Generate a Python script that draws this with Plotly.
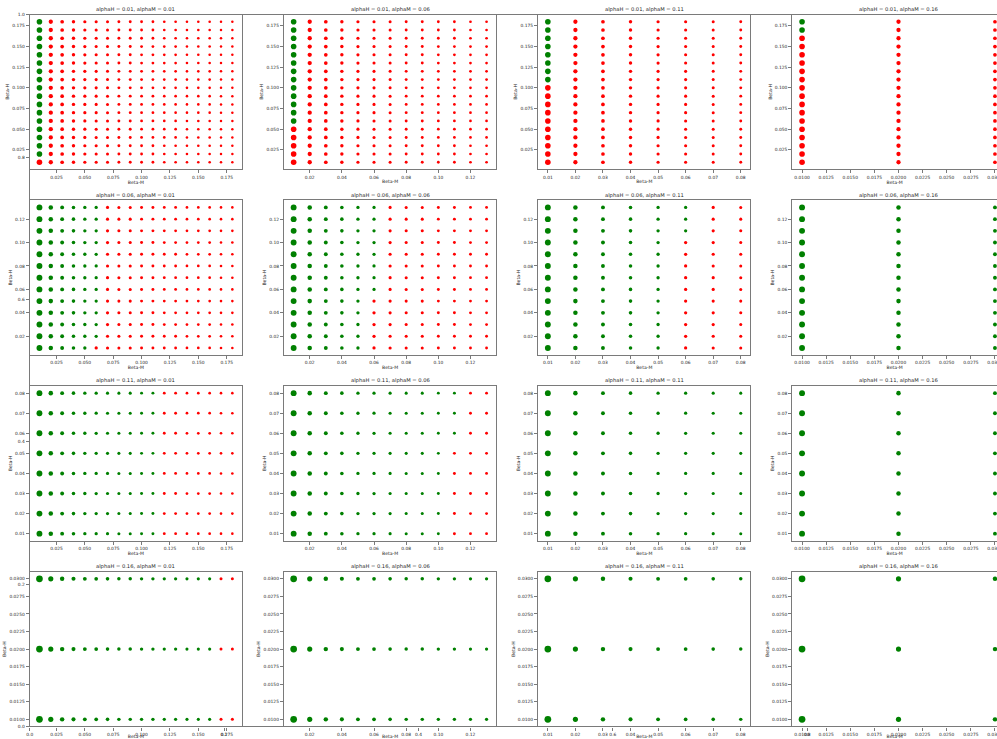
import plotly.graph_objects as go

W, H = 997, 739

alphaH_vals = [0.01, 0.06, 0.11, 0.16]
alphaM_vals = [0.01, 0.06, 0.11, 0.16]
beta_vals = [0.01, 0.02, 0.03, 0.04, 0.05, 0.06, 0.07, 0.08, 0.09,
             0.10, 0.11, 0.12, 0.13, 0.14, 0.15, 0.16, 0.17, 0.18]
# number of beta values used for each alpha level
n_beta = [18, 13, 8, 3]

# number of leftmost (lowest Beta-M) green points, for each Beta-H row (from 0.01 up)
green_counts = [
    [  # alphaH = 0.01
        [0, 1, 1, 1, 1, 1, 1, 1, 1, 1, 1, 1, 1, 1, 1, 1, 1, 1],
        [0, 0, 0, 0, 0, 1, 1, 1, 1, 1, 1, 1, 1, 1, 1, 1, 1, 1],
        [0, 0, 0, 0, 0, 0, 0, 0, 0, 0, 1, 1, 1, 1, 1, 1, 1, 1],
        [0, 0, 0, 0, 0, 0, 0, 0, 0, 0, 0, 0, 0, 0, 0, 0, 1, 1],
    ],
    [  # alphaH = 0.06
        [5, 6, 6, 6, 6, 6, 6, 6, 6, 6, 6, 6, 6],
        [5, 5, 5, 5, 5, 6, 6, 6, 6, 6, 6, 6, 6],
        [5, 5, 5, 5, 5, 5, 5, 5, 5, 5, 6, 6, 6],
        [3, 3, 3, 3, 3, 3, 3, 3, 3, 3, 3, 3, 3],
    ],
    [  # alphaH = 0.11
        [11, 11, 11, 11, 11, 11, 11, 11],
        [10, 10, 10, 10, 10, 11, 11, 11],
        [8, 8, 8, 8, 8, 8, 8, 8],
        [3, 3, 3, 3, 3, 3, 3, 3],
    ],
    [  # alphaH = 0.16
        [16, 16, 16],
        [13, 13, 13],
        [8, 8, 8],
        [3, 3, 3],
    ],
]

# marker diameter by Beta-M position
marker_d = [5.6, 4.3, 3.7, 3.4, 3.2, 3.1, 3.0, 2.9, 2.9,
            2.8, 2.8, 2.7, 2.7, 2.6, 2.6, 2.6, 2.5, 2.5]
row_scale = [1.0, 1.05, 1.05, 1.2]

# tick settings per alpha level (columns for Beta-M, rows for Beta-H)
tick_dt = [0.025, 0.02, 0.01, 0.0025]
tick_fmt = [".3f", ".2f", ".2f", ".4f"]

# layout geometry (pixels)
COL_L0, COL_STEP, COL_W = 29.8, 254.2, 212.2
ROW_T0, ROW_STEP, ROW_H = 14.7, 185.7, 154.6

LINE = "#7a7a7a"
TXT = "#262626"
FONT = "DejaVu Sans"

fig = go.Figure()
layout = {}
annotations = []

# background full-figure axes (0..1) visible behind the grid
OV_L, OV_R, OV_T, OV_B = 29.8, 1001.5, 14.7, 726.4
fig.add_trace(go.Scatter(x=[], y=[], xaxis="x", yaxis="y",
                         showlegend=False, hoverinfo="skip"))
layout["xaxis"] = dict(
    domain=[OV_L / W, 1], range=[0, (W - OV_L) / (OV_R - OV_L)], anchor="y",
    tickmode="linear", tick0=0, dtick=0.2, tickformat=".1f",
    ticks="outside", ticklen=3, tickwidth=0.8, tickcolor=LINE,
    showline=True, linecolor=LINE, linewidth=1.3, mirror=True,
    showgrid=False, zeroline=False, tickangle=0, ticklabeloverflow="allow",
    tickfont=dict(size=4.4, color=TXT, family=FONT), automargin=False, fixedrange=True)
layout["yaxis"] = dict(
    domain=[1 - OV_B / H, 1 - OV_T / H], range=[0, 1], anchor="x",
    tickmode="linear", tick0=0, dtick=0.2, tickformat=".1f",
    ticks="outside", ticklen=3, tickwidth=0.8, tickcolor=LINE,
    showline=True, linecolor=LINE, linewidth=1.3, mirror=False,
    showgrid=False, zeroline=False, ticklabeloverflow="allow",
    tickfont=dict(size=4.4, color=TXT, family=FONT), automargin=False, fixedrange=True)

for r in range(4):
    for c in range(4):
        k = r * 4 + c + 2
        xn, yn = f"x{k}", f"y{k}"
        xk, yk = f"xaxis{k}", f"yaxis{k}"
        bH = beta_vals[:n_beta[r]]
        bM = beta_vals[:n_beta[c]]
        xs, ys, cols, sz = [], [], [], []
        for i, h in enumerate(bH):
            g = green_counts[r][c][i]
            for j, m in enumerate(bM):
                xs.append(m)
                ys.append(h)
                cols.append("green" if j < g else "red")
                sz.append(marker_d[j] * row_scale[r])
        fig.add_trace(go.Scatter(
            x=xs, y=ys, mode="markers",
            marker=dict(color=cols, size=sz, opacity=1, line=dict(width=0)),
            xaxis=xn, yaxis=yn, showlegend=False, hoverinfo="skip"))

        span = bM[-1] - bM[0]
        lo, hi = bM[0] - 0.05 * span, bM[-1] + 0.05 * span
        L = COL_L0 + COL_STEP * c
        R = L + COL_W
        mirror_y = True
        if R > W:
            frac = (W - L) / (R - L)
            hi = lo + frac * (hi - lo)
            R = W
            mirror_y = False
        yspan = bH[-1] - bH[0]
        ylo, yhi = bH[0] - 0.05 * yspan, bH[-1] + 0.05 * yspan
        T = ROW_T0 + ROW_STEP * r
        B = T + ROW_H
        layout[xk] = dict(
            domain=[L / W, R / W], range=[lo, hi], anchor=yn,
            tickmode="linear", tick0=0, dtick=tick_dt[c], tickformat=tick_fmt[c],
            ticks="outside", ticklen=3, tickwidth=0.8, tickcolor=LINE,
            showline=True, linecolor=LINE, linewidth=1.3, mirror=True,
            showgrid=False, zeroline=False, tickangle=0, ticklabeloverflow="allow",
            tickfont=dict(size=4.4, color=TXT, family=FONT),
            title=dict(text="Beta-M", font=dict(size=4.6, color=TXT, family=FONT), standoff=1),
            automargin=False, fixedrange=True)
        layout[yk] = dict(
            domain=[1 - B / H, 1 - T / H], range=[ylo, yhi], anchor=xn,
            tickmode="linear", tick0=0, dtick=tick_dt[r], tickformat=tick_fmt[r],
            ticks="outside", ticklen=3, tickwidth=0.8, tickcolor=LINE,
            showline=True, linecolor=LINE, linewidth=1.3, mirror=mirror_y,
            showgrid=False, zeroline=False, ticklabeloverflow="allow",
            tickfont=dict(size=4.4, color=TXT, family=FONT),
            title=dict(text="Beta-H", font=dict(size=4.6, color=TXT, family=FONT), standoff=2),
            automargin=False, fixedrange=True)
        annotations.append(dict(
            text=f"alphaH = {alphaH_vals[r]}, alphaM = {alphaM_vals[c]}",
            x=(COL_L0 + COL_STEP * c + COL_W / 2) / W, y=1 - (T - 5.2) / H,
            xref="paper", yref="paper", showarrow=False,
            font=dict(size=5.2, color=TXT, family=FONT),
            xanchor="center", yanchor="middle"))

fig.update_layout(
    template="none",
    width=W, height=H,
    margin=dict(l=0, r=0, t=0, b=0, pad=0),
    paper_bgcolor="white", plot_bgcolor="rgba(0,0,0,0)",
    annotations=annotations,
    font=dict(family=FONT, color=TXT),
    **layout)

fig.write_html(
    "out.html",
    config={"displayModeBar": False},
    post_script="document.body.style.margin='0px';document.body.style.overflow='hidden';")
